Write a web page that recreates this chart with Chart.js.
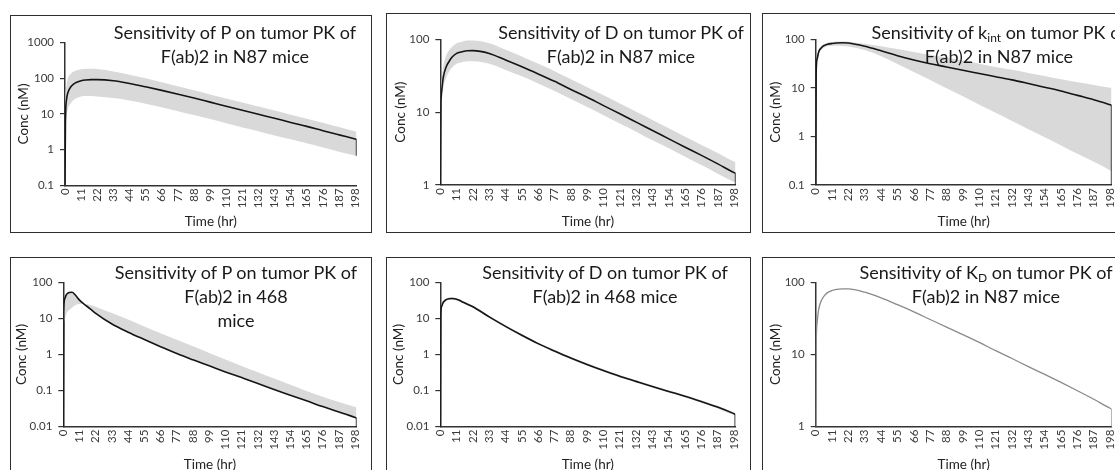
<!DOCTYPE html>
<html>
<head>
<meta charset="utf-8">
<script src="https://cdn.jsdelivr.net/npm/chart.js@4.4.1/dist/chart.umd.min.js"></script>
<style>
  html, body { margin: 0; padding: 0; background: #fff; width: 1115px; height: 470px; overflow: hidden; position: relative; font-family: Lato, sans-serif; }
  .panel { position: absolute; }
  .panel canvas { position: absolute; left: 0; top: 0; }
  .frame { position: absolute; left: 0; top: 0; right: 0; bottom: 0; border: 1.2px solid #2e2e2e; box-sizing: border-box; pointer-events: none; }
  .title { position: absolute; font-size: 18px; line-height: 24px; color: #1a1a1a; text-align: center; white-space: nowrap; transform: translateX(-50%); }
  .title sub { font-size: 12px; vertical-align: -3px; line-height: 0; }
</style>
</head>
<body>
<div id="root"></div>
<script>
// sample times (hr) shared by every panel
const times = [0, 0.3, 1, 2, 4, 6, 8, 11, 14, 18, 22, 33, 44, 55, 66, 77, 88, 99, 110, 121, 132, 143, 154, 165, 176, 187, 198, 199];
const timeTicks = [0, 11, 22, 33, 44, 55, 66, 77, 88, 99, 110, 121, 132, 143, 154, 165, 176, 187, 198];

// P, N87
const pN87Line  = [0.1, 6, 25, 40, 58, 70, 78, 86, 90, 92, 92, 86, 72, 58, 46, 36, 28, 21.5, 16.5, 12.7, 9.8, 7.6, 5.8, 4.5, 3.4, 2.6, 2.0, 1.95];
const pN87High  = [0.1, 15, 60, 100, 135, 155, 168, 180, 185, 186, 182, 155, 126, 100, 78, 60, 46, 35.5, 27.3, 21, 16.2, 12.5, 9.6, 7.4, 5.7, 4.3, 3.3, 3.25];
const pN87Low   = [0.1, 3, 8, 14, 20, 25, 28, 31, 32, 32, 31, 28, 24, 19.5, 15.5, 12, 9.3, 7.2, 5.5, 4.2, 3.3, 2.5, 1.95, 1.5, 1.15, 0.88, 0.68, 0.67];
const pN87Drop  = [1.95, 0.67];

// D, N87
const dN87Line  = [1, 10, 20, 30, 42, 50, 57, 64, 67, 69.5, 70, 64, 52, 42, 33.5, 26.5, 20.5, 16, 12.3, 9.5, 7.3, 5.6, 4.3, 3.3, 2.55, 1.95, 1.48, 1.45];
const dN87High  = [1, 13, 28, 43, 60, 71, 79, 88, 92, 96, 96, 88, 72, 58, 46, 36.5, 28.3, 22, 17, 13.1, 10.1, 7.8, 6, 4.6, 3.55, 2.75, 2.1, 2.07];
const dN87Low   = [1, 7, 14, 21, 30, 36, 41, 46, 48, 50, 50, 46, 38, 31, 24.7, 19.5, 15.2, 11.8, 9.1, 7, 5.4, 4.1, 3.2, 2.45, 1.88, 1.43, 1.1, 1.08];
const dN87Drop  = [1.45, 1];

// kint, N87
const kN87Line  = [0.1, 20, 40, 55, 68, 75, 79, 82, 84, 85, 84, 72, 58, 46, 37.5, 31.5, 27, 23, 19.8, 17, 14.6, 12.3, 10.3, 8.6, 7.0, 5.7, 4.5, 4.4];
const kN87High  = [0.1, 24, 45, 60, 74, 81, 85, 88, 90, 90, 89, 81, 72, 63, 55, 48, 42, 36.5, 31.5, 27, 23.5, 20.3, 17.5, 15, 13, 11.5, 10, 9.9];
const kN87Low   = [0.1, 16, 35, 50, 62, 69, 72, 74, 74, 73, 71, 60, 45, 31, 21.3, 14.5, 9.8, 6.7, 4.5, 3.07, 2.08, 1.41, 0.96, 0.65, 0.44, 0.30, 0.20, 0.19];
const kN87Drop  = [4.4, 0.1];

// P, 468
const p468Line  = [0.01, 15, 35, 45, 52, 53, 45, 32, 25, 18.8, 13.8, 7.0, 4.15, 2.6, 1.65, 1.06, 0.71, 0.485, 0.33, 0.229, 0.158, 0.107, 0.074, 0.052, 0.036, 0.0257, 0.018, 0.0175];
const p468High  = [0.01, 15, 35, 45, 52, 53, 45, 32, 25.5, 24, 21, 14, 9.3, 6.0, 3.9, 2.55, 1.68, 1.1, 0.73, 0.48, 0.32, 0.215, 0.145, 0.098, 0.068, 0.048, 0.035, 0.034];
const p468Low   = [0.01, 5, 9, 13, 17, 20, 23, 25, 25, 18.8, 13.8, 7.0, 4.15, 2.6, 1.65, 1.06, 0.71, 0.485, 0.33, 0.229, 0.158, 0.107, 0.074, 0.052, 0.036, 0.0257, 0.018, 0.0175];
const p468Drop  = [0.0175, 0.01];

// D, 468
const d468Line  = [0.01, 12, 22, 28, 33, 35, 35.5, 34, 30, 25, 21, 11, 6, 3.4, 2.0, 1.25, 0.80, 0.53, 0.36, 0.25, 0.18, 0.13, 0.095, 0.07, 0.05, 0.035, 0.023, 0.022];
const d468High  = [0.01, 13, 24, 30, 36, 38, 38.5, 37, 32.5, 27, 22.5, 11.8, 6.5, 3.7, 2.16, 1.35, 0.87, 0.57, 0.39, 0.27, 0.195, 0.14, 0.103, 0.076, 0.054, 0.038, 0.025, 0.024];
const d468Low   = [0.01, 11, 20, 26, 31, 32.5, 33, 31.5, 28, 23.3, 19.5, 10.2, 5.6, 3.15, 1.86, 1.16, 0.74, 0.49, 0.335, 0.232, 0.167, 0.121, 0.088, 0.065, 0.046, 0.032, 0.021, 0.0205];
const d468Drop  = [0.022, 0.01];

// KD, N87
const kdN87Line = [1, 12, 28, 42, 57, 66, 72, 77, 80, 81, 81, 73, 61, 49, 39, 30.5, 24, 18.8, 14.7, 11.3, 8.8, 6.8, 5.3, 4.1, 3.15, 2.4, 1.8, 1.76];
const kdN87Drop = [1.76, 1];

const ticks3 = [0.1, 1, 10, 100, 1000];
const ticksD = [1, 10, 100];
const ticksK = [0.1, 1, 10, 100];
const ticks468 = [0.01, 0.1, 1, 10, 100];

const panels = [
  { box: [10, 15, 362, 218], plot: { l: 65, r: 360, t: 42.7, b: 185.3 }, yTitleX: 23.3, xTitleY: 221.7,
    yMin: 0.1, yMax: 1000, yTicks: ticks3, line: pN87Line, high: pN87High, low: pN87Low, drop: pN87Drop,
    title: ['Sensitivity of P on tumor PK of', 'F(ab)2 in N87 mice'], titleX: 235, titleY: 20 },
  { box: [386, 13, 365, 220], plot: { l: 440.3, r: 738.7, t: 39.3, b: 185 }, yTitleX: 400.3, xTitleY: 221.7,
    yMin: 1, yMax: 100, yTicks: ticksD, line: dN87Line, high: dN87High, low: dN87Low, drop: dN87Drop,
    title: ['Sensitivity of D on tumor PK of', 'F(ab)2 in N87 mice'], titleX: 621, titleY: 20 },
  { box: [762, 13, 365, 220], plot: { l: 815.7, r: 1115, t: 39.3, b: 185 }, yTitleX: 775.7, xTitleY: 221.7,
    yMin: 0.1, yMax: 100, yTicks: ticksK, line: kN87Line, high: kN87High, low: kN87Low, drop: kN87Drop,
    title: ['Sensitivity of k<sub>int</sub> on tumor PK of', 'F(ab)2 in N87 mice'], titleX: 999, titleY: 20 },
  { box: [10, 257, 362, 225], plot: { l: 63.3, r: 360, t: 282.3, b: 426.7 }, yTitleX: 21.7, xTitleY: 464.3,
    yMin: 0.01, yMax: 100, yTicks: ticks468, line: p468Line, high: p468High, low: p468Low, drop: p468Drop,
    title: ['Sensitivity of P on tumor PK of', 'F(ab)2 in 468', 'mice'], titleX: 236, titleY: 260 },
  { box: [386, 257, 365, 225], plot: { l: 440.3, r: 735.3, t: 282.3, b: 426.7 }, yTitleX: 398.7, xTitleY: 464.3,
    yMin: 0.01, yMax: 100, yTicks: ticks468, line: d468Line, high: d468High, low: d468Low, drop: d468Drop,
    title: ['Sensitivity of D on tumor PK of', 'F(ab)2 in 468 mice'], titleX: 605, titleY: 260 },
  { box: [762, 257, 365, 225], plot: { l: 815.7, r: 1113, t: 282.3, b: 426.7 }, yTitleX: 775.7, xTitleY: 464.3,
    yMin: 1, yMax: 100, yTicks: ticksD, line: kdN87Line, high: null, low: null, drop: kdN87Drop,
    lineColor: '#8a8a8a', lineWidth: 1.3,
    title: ['Sensitivity of K<sub>D</sub> on tumor PK of', 'F(ab)2 in N87 mice'], titleX: 986, titleY: 260 },
];

const axisColor = '#333';
const labelColor = '#3a3a3a';
const bandColor = '#d9d9d9';
const titleFont = { family: 'Lato', size: 13.5 };
const tickFont = { family: 'Lato', size: 11.5 };

const pts = (arr) => times.map((t, i) => ({ x: t, y: arr[i] }));

const root = document.getElementById('root');

panels.forEach((p) => {
  const [bx, by, bw, bh] = p.box;
  const div = document.createElement('div');
  div.className = 'panel';
  div.style.cssText = `left:${bx}px;top:${by}px;width:${bw}px;height:${bh}px;`;
  const canvas = document.createElement('canvas');
  canvas.width = bw;
  canvas.height = bh;
  div.appendChild(canvas);
  const frame = document.createElement('div');
  frame.className = 'frame';
  div.appendChild(frame);
  root.appendChild(div);

  const t = document.createElement('div');
  t.className = 'title';
  t.style.left = p.titleX + 'px';
  t.style.top = p.titleY + 'px';
  t.innerHTML = p.title.join('<br>');
  document.body.appendChild(t);

  const lh = titleFont.size * 1.2;
  const yAxisW = p.plot.l - bx;
  const xAxisH = by + bh - p.plot.b;
  const color = p.lineColor || '#141414';
  const width = p.lineWidth || 1.6;

  const datasets = [{
    data: pts(p.line),
    borderColor: color,
    borderWidth: width,
    pointRadius: 0,
    fill: false,
    cubicInterpolationMode: 'monotone',
  }, {
    // vertical drop at the end of the run
    data: p.drop.map((v) => ({ x: 199, y: v })),
    borderColor: color,
    borderWidth: width,
    pointRadius: 0,
    fill: false,
  }];
  if (p.high) {
    datasets.push({
      data: pts(p.high),
      borderWidth: 0,
      pointRadius: 0,
      backgroundColor: bandColor,
      fill: '+1',
      cubicInterpolationMode: 'monotone',
    });
    datasets.push({
      data: pts(p.low),
      borderWidth: 0,
      pointRadius: 0,
      fill: false,
      cubicInterpolationMode: 'monotone',
    });
  }

  new Chart(canvas, {
    type: 'line',
    data: { datasets },
    options: {
      responsive: false,
      animation: false,
      events: [],
      layout: { padding: { left: 0, top: p.plot.t - by, right: bx + bw - p.plot.r, bottom: 0 } },
      plugins: { legend: { display: false }, tooltip: { enabled: false } },
      scales: {
        x: {
          type: 'linear',
          min: 0,
          max: 199,
          afterBuildTicks: (s) => { s.ticks = timeTicks.map((v) => ({ value: v })); },
          afterFit: (s) => { s.height = xAxisH; },
          grid: { display: false, drawTicks: false },
          border: { display: true, color: axisColor, width: 1.5 },
          ticks: { autoSkip: false, minRotation: 90, maxRotation: 90, padding: 3, color: labelColor, font: tickFont },
          title: { display: true, text: 'Time (hr)', color: '#222', font: titleFont,
                   padding: { top: 0, bottom: by + bh - p.xTitleY - lh / 2 } },
        },
        y: {
          type: 'logarithmic',
          min: p.yMin,
          max: p.yMax,
          afterBuildTicks: (s) => { s.ticks = p.yTicks.map((v) => ({ value: v })); },
          afterFit: (s) => { s.width = yAxisW; },
          grid: { display: true, drawOnChartArea: false, drawTicks: true, tickLength: 5, color: axisColor, lineWidth: 1.2 },
          border: { display: true, color: axisColor, width: 1.5 },
          ticks: { padding: 6, color: labelColor, font: tickFont, callback: (v) => String(v) },
          title: { display: true, text: 'Conc (nM)', color: '#222', font: titleFont,
                   padding: { top: p.yTitleX - bx - lh / 2, bottom: 0 } },
        },
      },
    },
  });
});
</script>
</body>
</html>
